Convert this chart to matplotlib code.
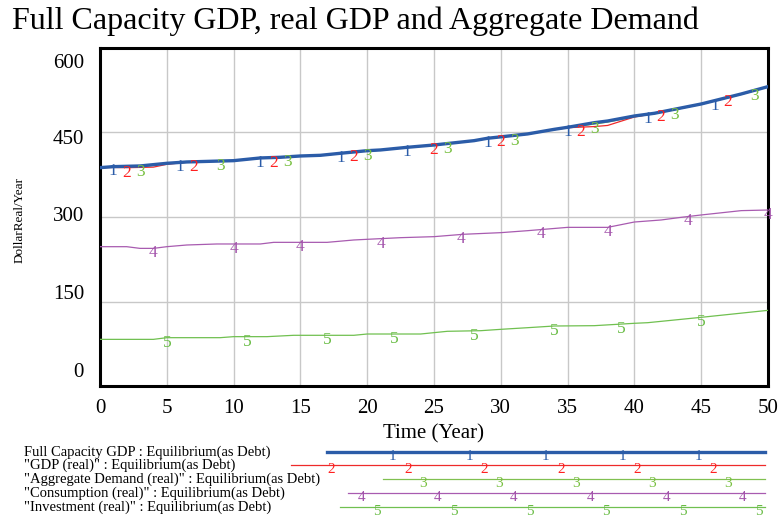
import numpy as np
import matplotlib
matplotlib.use("Agg")
import matplotlib.pyplot as plt

plt.rcParams['font.family'] = ['Liberation Serif', 'DejaVu Serif']

# values (year, DollarReal/Year)
t_full = [0, 1, 3, 5, 6.5, 10, 12, 13.5, 15, 16.5, 18, 20, 21, 23, 25, 28, 29, 32, 34, 35,
          37, 38, 40, 41.5, 43, 45, 46, 48, 50]
full_gdp = [387.6, 389.4, 390.6, 395.3, 397.7, 400, 404.8, 406, 408.3, 409.5, 413.1, 417.7,
            419, 423.7, 427.8, 435.5, 439.7, 447.4, 455.6, 459.2, 467.4, 470.4, 479.3, 484.1,
            491.2, 500.6, 506.5, 518.4, 531.4]

t_gdp = [0, 1, 2, 4, 5, 6.5, 10, 12, 13.5, 15, 16.5, 18, 20, 21, 23, 25, 28, 29, 32, 34, 35,
         37, 38, 39, 40, 41.5, 43, 45, 46, 48, 50]
gdp_real = [387.6, 388, 387.5, 388.5, 393.5, 397.2, 400, 404.2, 405.6, 408, 409.2, 412.5,
            417.2, 418.6, 423.4, 427.5, 435.2, 439.3, 447, 455, 458.5, 460.5, 462.5, 470,
            477.5, 483.5, 490.6, 500.2, 506, 518, 531]

t_ad = t_full
agg_demand = [387.6, 388.5, 389, 394.5, 397, 399.6, 404.2, 405.5, 408, 409, 412.6, 417.2,
              418.6, 423.3, 427.4, 435, 439.2, 447, 455, 458.5, 465, 468.5, 478, 483.5,
              490.5, 500, 506, 517.5, 530.8]

t_cons = [0, 2, 3, 4, 5, 6.5, 8.75, 12, 13, 17, 19, 20, 22.5, 25, 27.2, 30, 32, 35, 38, 40,
          42, 43.5, 45, 48, 50]
consumption = [247.3, 247.3, 244.3, 244.3, 247.3, 250.3, 252.1, 252.1, 255, 255, 259.2, 260.4,
               263.3, 265.1, 269.3, 272.2, 275.7, 281.6, 281.6, 291.1, 294.7, 299.4, 303.6,
               311.3, 312.4]

t_inv = [0, 4, 5, 9, 10, 12.5, 14.5, 19, 20, 24, 25, 26, 28.5, 30, 32, 34, 37, 40, 41, 45, 50]
investment = [82.8, 82.8, 85.8, 85.8, 87.6, 87.6, 90, 90, 92.3, 92.3, 94.7, 97.1, 98.2, 100.6,
              103.5, 106.5, 107.1, 111.3, 112.4, 121.9, 134.3]

# years where the series number is printed on the curve
marks_1 = [1, 6, 12, 18, 23, 29, 35, 41, 46]
marks_2 = [2, 7, 13, 19, 25, 30, 36, 42, 47]
marks_3 = [3, 9, 14, 20, 26, 31, 37, 43, 49]
marks_4 = [4, 10, 15, 21, 27, 33, 38, 44, 50]
marks_5 = [5, 11, 17, 22, 28, 34, 39, 45]

legend_names = ['Full Capacity GDP : Equilibrium(as Debt)',
                '"GDP (real)" : Equilibrium(as Debt)',
                '"Aggregate Demand (real)" : Equilibrium(as Debt)',
                '"Consumption (real)" : Equilibrium(as Debt)',
                '"Investment (real)" : Equilibrium(as Debt)']

line_colors = ['#2b5ca8', '#ee2a2a', '#80c050', '#a85bb0', '#70c050']
digit_colors = ['#2b5ca8', '#ff2020', '#78c040', '#a455ac', '#68bc44']
widths = [2.4, 0.9, 0.9, 0.9, 0.9]

series = [(t_full, full_gdp, marks_1), (t_gdp, gdp_real, marks_2), (t_ad, agg_demand, marks_3),
          (t_cons, consumption, marks_4), (t_inv, investment, marks_5)]

fig = plt.figure(figsize=(7.81, 5.21), dpi=100)
ax = fig.add_axes([0.128, 0.2591, 0.8553, 0.6488])

# draw back to front so the thick blue line ends up on top
for i in [4, 3, 2, 1, 0]:
    tt, vv, mk = series[i]
    ax.plot(tt, vv, color=line_colors[i], lw=widths[i], zorder=3 + (4 - i))
    for m in mk:
        ax.annotate(str(i + 1), (m, np.interp(m, tt, vv)), xytext=(0, -3.5),
                    textcoords='offset points', ha='center', va='center',
                    color=digit_colors[i], fontsize=12.5, zorder=10, annotation_clip=False)

ax.set_xlim(0, 50)
ax.set_ylim(0, 600)
ax.set_xticks(np.arange(0, 51, 5))
ax.set_yticks([0, 150, 300, 450, 600])
ax.set_yticklabels([])
ax.tick_params(length=0, labelsize=15, pad=9)
ax.grid(True, color='#c8c8c8', lw=1)
ax.set_axisbelow(True)
for s in ax.spines.values():
    s.set_linewidth(2.2)
    s.set_color('black')

# Vensim spreads the y labels a little differently from the grid lines
ylab_vals = [0, 150, 300, 450, 600]
ylab_shift = [10, 5, 0, -5, -11]
for v, sh in zip(ylab_vals, ylab_shift):
    ax.annotate(str(v), (0, v), xycoords=('axes fraction', 'data'),
                xytext=(-11.5, sh), textcoords='offset points',
                ha='right', va='center', fontsize=15)

ax.set_xlabel('Time (Year)', fontsize=15, labelpad=5)
ax.set_ylabel('DollarReal/Year', fontsize=9.5)
ax.yaxis.set_label_coords(-0.112, 0.49)

fig.text(0.015, 0.96, 'Full Capacity GDP, real GDP and Aggregate Demand',
         fontsize=23, ha='left', va='center')

# legend drawn in pixel coordinates under the plot
lg = fig.add_axes([0, 0, 1, 1])
lg.set_xlim(0, 781)
lg.set_ylim(521, 0)
lg.axis('off')

leg_y = [452, 465, 479, 493, 507]
leg_x0 = [327, 291, 383, 348, 340]
leg_digits = [[392, 469, 545, 622, 698],
              [331, 408, 484, 561, 637, 713],
              [423, 499, 576, 652, 728],
              [362, 438, 514, 591, 667, 743],
              [377, 454, 530, 606, 683, 759]]
for i in range(5):
    lg.text(24, leg_y[i], legend_names[i], fontsize=10.5, ha='left', va='center')
    lg.plot([leg_x0[i], 765], [leg_y[i], leg_y[i]], color=line_colors[i], lw=widths[i])
    for x in leg_digits[i]:
        lg.annotate(str(i + 1), (x, leg_y[i]), xytext=(0, -3), textcoords='offset points',
                    ha='center', va='center', color=digit_colors[i], fontsize=11)

fig.savefig('out.png', dpi=100)
